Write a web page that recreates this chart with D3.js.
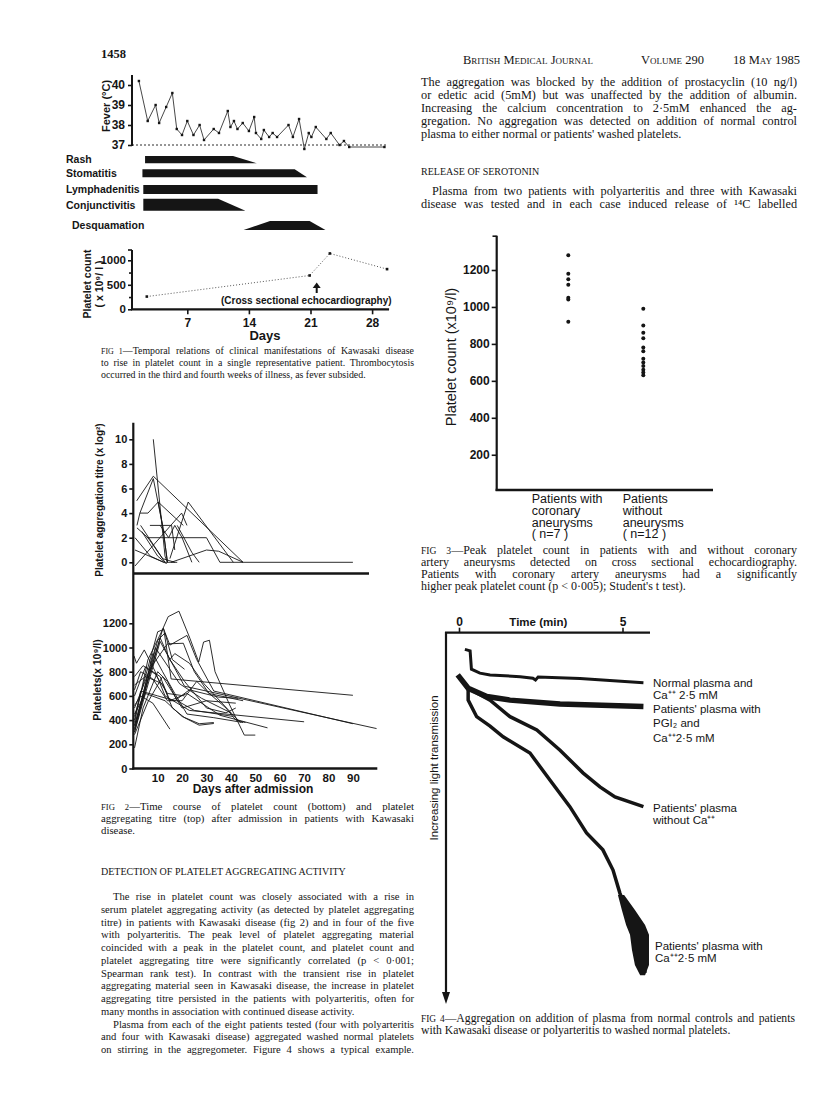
<!DOCTYPE html>
<html><head><meta charset="utf-8">
<script src="https://cdn.jsdelivr.net/npm/d3@7"></script>
<style>body{margin:0;background:#fff} svg{display:block}</style>
</head><body>
<svg id="c" width="816" height="1111"></svg>
<script>
// ---------------- DATA ----------------
// Fig 1: fever
const feverDay = [1.5,2.5,3.4,3.8,4.6,5.3,5.8,6.4,7.0,7.7,8.4,8.9,10.0,10.6,11.6,11.9,12.3,12.7,13.3,14.0,14.6,14.8,15.4,15.7,16.3,16.7,17.2,18.5,19.0,19.7,20.3,20.8,21.1,21.6,22.8,23.3,24.3,24.8,25.4,29.4];
const feverTemp = [40.2,38.2,39.0,38.1,38.9,39.6,37.8,37.5,38.2,37.5,38.0,37.25,37.8,37.6,38.7,37.9,38.2,37.8,38.1,37.7,38.4,37.6,37.3,37.75,37.4,37.6,37.4,38.0,37.4,38.3,36.8,37.6,37.4,37.9,37.3,37.6,37.0,37.2,36.9,36.9];
const feverTicks = [37,38,39,40];
// Fig 1: clinical manifestations (days)
const symptoms = ["Rash","Stomatitis","Lymphadenitis","Conjunctivitis","Desquamation"];
const symStart   = [2.2, 1.9, 2.0, 2.0, 13.4];
const symFull    = [2.2, 1.9, 2.0, 2.0, 16.4];
const symFullEnd = [12.2,19.2,21.8,10.5,20.9];
const symEnd     = [14.9,20.6,21.8,13.6,22.7];
// Fig 1: platelet count
const pltDay = [2.4,20.9,23.2,29.7];
const pltCount = [260,690,1140,820];
const dayTicks = [7,14,21,28];
const pltTicks = [0,500,1000];
// Fig 2 top: platelet aggregation titre (day, titre)
const titreSeries = [
 [[1.4,5],[8.2,7],[45,0]],
 [[1.5,3],[2.7,4],[8.2,6.8],[12,3],[14,0]],
 [[8.2,10],[13,0.5],[14,0]],
 [[2.7,4],[6,4],[10.2,4.9],[20.5,3]],
 [[6.8,3],[15.7,3],[17,1]],
 [[5.5,2],[30,2],[35.5,0],[45,0],[90,0]],
 [[15,0.3],[22.5,4.9],[41,0]],
 [[1.5,2.8],[6,2],[12,0.3],[17,0]],
 [[0.7,2],[7,0.5],[12.5,0]],
 [[0.7,1],[13.7,-0.1]],
 [[0.7,-0.3],[19.8,4],[22,3]],
 [[3,3],[13,0],[18,0]],
 [[15.5,0],[30,1],[35,0.9],[45,0]],
 [[11,3],[14.5,2],[17,3],[20,2],[24,0]],
 [[10.2,4.9],[12,3],[14,0]],
 [[18,3],[24,0.8],[27,0]],
 [[3.5,2.5],[10,0.5],[13,0]]
];
const titreTicks = [0,2,4,6,8,10];
// Fig 2 bottom: platelets (day, count)
const plateletSeries = [
 [[0.5,430],[10,1130],[12.5,1150],[15.5,740],[90,605]],
 [[0.5,330],[12,1150],[14.3,1255],[18.7,1300],[23.2,1076],[26.8,880],[28.8,1045],[31.2,1060],[33.5,800],[39.5,525],[45.5,276],[50,276]],
 [[0.5,300],[11,1050],[21,680],[99.7,330]],
 [[0.5,380],[6,900],[12.3,1160],[15,1020],[22,1100],[26,900],[33,640],[90,370]],
 [[0.5,500],[7,830],[14,1030],[20.5,1035],[25,800],[31,620],[45,560]],
 [[0.3,930],[1.3,870],[4.5,980],[9,800],[13,600],[23,480],[70,386]],
 [[0.5,600],[5,840],[11,760],[15,560],[22,620],[35.5,440],[55,336]],
 [[0.5,690],[5,760],[12,700],[16,500],[21,420],[27,358],[33,372]],
 [[0.5,520],[3,600],[8,540],[15,325]],
 [[0.5,170],[4,500],[10,800],[14,720],[18,560],[25,480],[41,430]],
 [[0.5,400],[3,640],[10,600],[17,560],[23,650],[35,590],[43,580]],
 [[0.5,320],[8,950],[12,800],[17,620],[22,450],[33,420],[45,380]],
 [[0.5,280],[6,550],[12,760],[20,500],[30,560],[42,540]],
 [[0.5,650],[3,800],[8,740],[14,560],[20,560],[26,720],[30,640],[38,500],[42,400],[46,380]],
 [[0.5,350],[9,1000],[13,880],[19,700],[28,580],[40,460]],
 [[0.5,360],[11,1080],[15,900],[21,720],[30,500],[38,460],[42,500]],
 [[14.5,890],[17,950],[23,870],[29,700],[41,440],[44,380]],
 [[0.5,450],[5,620],[13,560],[20,430],[27,370],[33,380]],
 [[0.5,760],[4,850],[9,780],[14,620],[21,600]],
 [[0.5,300],[10,1060],[13,1120],[16,900],[21,820]]
];
const plateletTicks = [0,200,400,600,800,1000,1200];
const admitTicks = [10,20,30,40,50,60,70,80,90];
// Fig 3
const groupLabels = [["Patients with","coronary","aneurysms","( n=7 )"],["Patients","without","aneurysms","( n=12 )"]];
const withAneurysm = [1280,1180,1150,1120,1050,1040,920];
const withoutAneurysm = [990,900,860,830,780,760,720,700,680,660,645,630];
const fig3Ticks = [200,400,600,800,1000,1200];
// Fig 4: aggregometer traces (time min, downward deflection units)
const traceNormal = [[0.18,2.6],[0.34,3.0],[0.38,8.1],[0.64,9.2],[0.95,9.7],[1.87,10.2],[2.26,10.6],[2.34,11.1],[2.42,10.3],[3.7,10.7],[5.64,11.9]];
const tracePGI = [[-0.04,9.7],[0.28,13.4],[0.85,15.7],[1.56,16.7],[3.09,17.8],[5.64,18.5]];
const traceNoCa = [[0.28,13.4],[0.95,16.7],[1.56,21.3],[2.38,25],[3.09,30.6],[3.79,36.9],[4.31,40.8],[4.77,43.6],[5.64,46.3]];
const traceCa = [[0.28,13.3],[0.28,16.7],[0.54,21.3],[0.95,23.9],[1.35,26.9],[2.17,31.4],[2.78,38.9],[3.39,46.3],[3.9,53.6],[4.4,58.3],[4.71,63.9],[4.92,70.3],[5.23,77.8],[5.54,84.2],[5.69,92.5]];
const caBand = [[70.8,4.86,5.05],[75,4.98,5.38],[79.2,5.11,5.69],[81.9,5.23,5.81],[86.1,5.29,5.81],[90.3,5.38,5.81],[93.1,5.54,5.69]];
const timeTicks = [0,5];

// ---------------- DRAWING ----------------
const svg = d3.select('#c');
const SERIF = "'Liberation Serif','Times New Roman',serif";
const SANS = "'Liberation Sans',Arial,sans-serif";
const ink = '#151515';
const fmt = d3.format('d');

function tx(x,y,t,o={}){
  const e = svg.append('text').attr('x',x).attr('y',y).attr('fill',ink)
   .attr('font-family',o.f||SERIF).attr('font-size',o.s||11.5).text(t);
  if(o.w) e.attr('font-weight',o.w);
  if(o.a) e.attr('text-anchor',o.a);
  if(o.sc) e.style('font-variant','small-caps');
  return e;
}
function justify(e,target,text){
  const nat = e.node().getComputedTextLength();
  const sp = (text.match(/ /g)||[]).length;
  if(sp>0) e.attr('word-spacing',((target-nat)/sp).toFixed(2));
}
function para(lines,x,y0,dy,width,size){
  lines.forEach((ln,i)=>{
    const ind = ln.i||0;
    const e = svg.append('text').attr('x',x+ind).attr('y',y0+i*dy).attr('fill',ink)
      .attr('font-family',SERIF).attr('font-size',size);
    if(ln.fig){ e.append('tspan').attr('font-size',size*0.8).text(ln.fig); }
    e.append('tspan').text(ln.t);
    if(ln.j) justify(e,width-ind,(ln.fig||'')+ln.t);
  });
}

// header
tx(101,58,'1458',{w:'bold',s:12.5});
tx(463,64,'British Medical Journal',{sc:true,s:12.5});
tx(641,64,'Volume 290',{sc:true,s:12.5});
tx(733,64,'18 May 1985',{sc:true,s:12.5});

// right column text
para([
 {t:'The aggregation was blocked by the addition of prostacyclin (10 ng/l)',j:1},
 {t:'or edetic acid (5mM) but was unaffected by the addition of albumin.',j:1},
 {t:'Increasing the calcium concentration to 2·5mM enhanced the ag-',j:1},
 {t:'gregation. No aggregation was detected on addition of normal control',j:1},
 {t:"plasma to either normal or patients' washed platelets."}
],421,86,13,376,12.3);
tx(421,175,'RELEASE OF SEROTONIN',{s:10});
para([
 {t:'Plasma from two patients with polyarteritis and three with Kawasaki',j:1,i:11},
 {t:'disease was tested and in each case induced release of ¹⁴C labelled',j:1}
],421,195,13,376,12.3);

// left column text
tx(101,875,'DETECTION OF PLATELET AGGREGATING ACTIVITY',{s:10});
para([
 {t:'The rise in platelet count was closely associated with a rise in',j:1,i:12},
 {t:'serum platelet aggregating activity (as detected by platelet aggregating',j:1},
 {t:'titre) in patients with Kawasaki disease (fig 2) and in four of the five',j:1},
 {t:'with polyarteritis. The peak level of platelet aggregating material',j:1},
 {t:'coincided with a peak in the platelet count, and platelet count and',j:1},
 {t:'platelet aggregating titre were significantly correlated (p < 0·001;',j:1},
 {t:'Spearman rank test). In contrast with the transient rise in platelet',j:1},
 {t:'aggregating material seen in Kawasaki disease, the increase in platelet',j:1},
 {t:'aggregating titre persisted in the patients with polyarteritis, often for',j:1},
 {t:'many months in association with continued disease activity.'},
 {t:'Plasma from each of the eight patients tested (four with polyarteritis',j:1,i:12},
 {t:'and four with Kawasaki disease) aggregated washed normal platelets',j:1},
 {t:'on stirring in the aggregometer. Figure 4 shows a typical example.',j:1}
],101,900,12.75,313,10.6);

// captions
para([
 {fig:'FIG 1',t:'—Temporal relations of clinical manifestations of Kawasaki disease',j:1},
 {t:'to rise in platelet count in a single representative patient. Thrombocytosis',j:1},
 {t:'occurred in the third and fourth weeks of illness, as fever subsided.'}
],101,354,12,313,9.9);
para([
 {fig:'FIG 2',t:'—Time course of platelet count (bottom) and platelet',j:1},
 {t:'aggregating titre (top) after admission in patients with Kawasaki',j:1},
 {t:'disease.'}
],101,810,12,313,10.8);
para([
 {fig:'FIG 3',t:'—Peak platelet count in patients with and without coronary',j:1},
 {t:'artery aneurysms detected on cross sectional echocardiography.',j:1},
 {t:'Patients with coronary artery aneurysms had a significantly',j:1},
 {t:"higher peak platelet count (p < 0·005); Student's t test)."}
],421,554,12,376,12);
para([
 {fig:'FIG 4',t:'—Aggregation on addition of plasma from normal controls and patients',j:1},
 {t:'with Kawasaki disease or polyarteritis to washed normal platelets.'}
],421,1022,12,374,11.7);

function styleAxis(g,size,weight){
  g.select('.domain').remove();
  g.selectAll('line').attr('stroke',ink).attr('stroke-width',1.6);
  g.selectAll('text').attr('font-family',SANS).attr('font-size',size).attr('font-weight',weight||'bold').attr('fill',ink);
}
function vline(x,y1,y2,w){svg.append('line').attr('x1',x).attr('x2',x).attr('y1',y1).attr('y2',y2).attr('stroke',ink).attr('stroke-width',w||2);}
function hline(y,x1,x2,w){svg.append('line').attr('x1',x1).attr('x2',x2).attr('y1',y).attr('y2',y).attr('stroke',ink).attr('stroke-width',w||2);}
function rlabel(x,y,t,size,weight){
  return svg.append('text').attr('transform',`translate(${x},${y}) rotate(-90)`).attr('text-anchor','middle')
    .attr('font-family',SANS).attr('font-size',size).attr('font-weight',weight||'600').attr('fill',ink).text(t);
}

// ===== FIG 1 =====
const x1 = d3.scaleLinear().domain([0,28]).range([125.7,372.1]);
const yF = d3.scaleLinear().domain([37,40]).range([145,85]);
vline(132,75,146,2);
svg.append('g').attr('transform','translate(132,0)').call(d3.axisLeft(yF).tickValues(feverTicks).tickSize(4).tickPadding(3).tickFormat(fmt)).call(g=>styleAxis(g,12));
svg.append('line').attr('x1',132).attr('x2',x1(29.6)).attr('y1',yF(37)).attr('y2',yF(37)).attr('stroke',ink).attr('stroke-width',0.9).attr('stroke-dasharray','2,2');
const feverPts = feverDay.map((d,i)=>[x1(d),yF(feverTemp[i])]);
svg.append('path').attr('d',d3.line()(feverPts)).attr('fill','none').attr('stroke','#333').attr('stroke-width',0.9);
svg.selectAll('.fp').data(feverPts).join('rect').attr('x',d=>d[0]-1.2).attr('y',d=>d[1]-1.2).attr('width',2.4).attr('height',2.4).attr('fill',ink);
rlabel(110,106,'Fever (°C)',11,'bold');

// symptom bars
const rowTop = [156,169.3,185,198.7,221];
const rowH = [7.3,8,9,12,9];
symptoms.forEach((s,i)=>{
  const t=rowTop[i], b=rowTop[i]+rowH[i];
  const pts=[[x1(symStart[i]),b],[x1(symFull[i]),t],[x1(symFullEnd[i]),t],[x1(symEnd[i]),b]];
  if(symStart[i]===symFull[i]) pts.splice(1,0,[x1(symStart[i]),t]);
  svg.append('path').attr('d','M'+pts.map(p=>p.join(',')).join('L')+'Z').attr('fill',ink);
  tx(i===4?72:66,rowTop[i]+rowH[i]/2+3.8,s,{f:SANS,w:'bold',s:10.5});
});

// platelet panel
const yP = d3.scaleLinear().domain([0,1000]).range([309.3,260.3]);
vline(132,250,310,2);
hline(250,128,132,1.6);
hline(309.3,131,x1(29.7)+2,2.2);
svg.append('g').attr('transform','translate(132,0)').call(d3.axisLeft(yP).tickValues(pltTicks).tickSize(4).tickPadding(2).tickFormat(fmt)).call(g=>styleAxis(g,11.5));
svg.append('g').attr('transform','translate(132,0)').call(d3.axisLeft(yP).tickValues([250,750]).tickSize(3).tickFormat('')).call(g=>styleAxis(g,12));
svg.append('g').attr('transform','translate(0,309.3)').call(d3.axisBottom(x1).tickValues(dayTicks).tickSize(5).tickPadding(4).tickFormat(fmt)).call(g=>styleAxis(g,12));
tx(265,340,'Days',{f:SANS,w:'bold',s:13,a:'middle'});
const pltPts = pltDay.map((d,i)=>[x1(d),yP(pltCount[i])]);
svg.append('path').attr('d',d3.line()(pltPts)).attr('fill','none').attr('stroke','#444').attr('stroke-width',0.9).attr('stroke-dasharray','1,2');
svg.selectAll('.pp').data(pltPts).join('rect').attr('x',d=>d[0]-1.3).attr('y',d=>d[1]-1.3).attr('width',2.6).attr('height',2.6).attr('fill',ink);
svg.append('line').attr('x1',316.7).attr('x2',316.7).attr('y1',293).attr('y2',287).attr('stroke',ink).attr('stroke-width',2);
svg.append('path').attr('d','M312.7,288 L316.7,282.5 L320.7,288 Z').attr('fill',ink);
tx(221,304,'(Cross sectional echocardiography)',{f:SANS,w:'bold',s:10});
rlabel(91,284,'Platelet count',10.5,'bold');
rlabel(103,284,'( x 10⁹/ l )',10.5,'bold');

// ===== FIG 2 =====
const x2 = d3.scaleLinear().domain([0,100]).range([133.3,377.3]);
const yT = d3.scaleLinear().domain([0,10]).range([562.3,439.3]);
const yB = d3.scaleLinear().domain([0,1200]).range([768.5,623.3]);
vline(133.3,422.7,769.5,2.2);
hline(573.5,133,369,2.4);
hline(768.5,132.3,377.3,2.4);
svg.append('g').attr('transform','translate(133.3,0)').call(d3.axisLeft(yT).tickValues(titreTicks).tickSize(4).tickPadding(2).tickFormat(fmt)).call(g=>styleAxis(g,11,'600'));
svg.append('g').attr('transform','translate(133.3,0)').call(d3.axisLeft(yB).tickValues(plateletTicks).tickSize(4).tickPadding(2).tickFormat(fmt)).call(g=>styleAxis(g,11,'600'));
svg.append('g').attr('transform','translate(0,768.5)').call(d3.axisBottom(x2).tickValues(admitTicks).tickSize(0).tickPadding(5).tickFormat(fmt)).call(g=>styleAxis(g,11.5,'600'));
tx(253,793,'Days after admission',{f:SANS,s:12,a:'middle',w:'600'});
const lineT = d3.line().x(d=>x2(d[0])).y(d=>yT(d[1]));
svg.selectAll('.ts').data(titreSeries).join('path').attr('d',lineT).attr('fill','none').attr('stroke',ink).attr('stroke-width',0.9);
const lineB = d3.line().x(d=>x2(d[0])).y(d=>yB(d[1]));
svg.selectAll('.bs').data(plateletSeries).join('path').attr('d',lineB).attr('fill','none').attr('stroke',ink).attr('stroke-width',0.9);
rlabel(103,500,'Platelet aggregation titre (x log²)',10,'600');
rlabel(101,680,'Platelets(x 10⁹/l)',10.5,'600');

// ===== FIG 3 =====
const y3 = d3.scaleLinear().domain([0,1200]).range([491.7,270]);
const x3 = d3.scalePoint().domain([0,1]).range([568.3,643.3]);
vline(496.7,235.7,491,2.2);
hline(236.2,492.5,496.7,1.6);
hline(490,495.6,713,2.4);
svg.append('g').attr('transform','translate(496.7,0)').call(d3.axisLeft(y3).tickValues(fig3Ticks).tickSize(5).tickPadding(2).tickFormat(fmt)).call(g=>styleAxis(g,12,'600'));
svg.selectAll('.d1').data(withAneurysm).join('circle').attr('cx',x3(0)).attr('cy',d=>y3(d)).attr('r',2).attr('fill',ink);
svg.selectAll('.d2').data(withoutAneurysm).join('circle').attr('cx',x3(1)).attr('cy',d=>y3(d)).attr('r',2).attr('fill',ink);
groupLabels.forEach((lab,gi)=>{
  lab.forEach((l,li)=>tx(gi===0?531.7:622.7,503+li*11.8,l,{f:SANS,s:12.5}));
});
rlabel(456,357,'Platelet count (x10⁹/l)',14.5,'normal');

// ===== FIG 4 =====
const xt = d3.scaleLinear().domain([0,5]).range([459,622.5]);
const yv = d3.scaleLinear().domain([0,100]).range([640,1000]);
hline(632.7,445,650,2.2);
vline(446,632,995,2.2);
svg.append('path').attr('d','M442,992 L446,1004 L450,992 Z').attr('fill',ink);
svg.append('g').attr('transform','translate(0,632.7)').call(d3.axisTop(xt).tickValues(timeTicks).tickSize(5).tickPadding(2).tickFormat(fmt)).call(g=>styleAxis(g,12,'600'));
tx(538.3,626,'Time (min)',{f:SANS,s:11.5,a:'middle',w:'600'});
const lineF = d3.line().x(d=>xt(d[0])).y(d=>yv(d[1]));
svg.append('path').attr('d',lineF(traceNormal)).attr('fill','none').attr('stroke',ink).attr('stroke-width',3);
svg.append('path').attr('d',lineF(tracePGI)).attr('fill','none').attr('stroke',ink).attr('stroke-width',5.5);
svg.append('path').attr('d',lineF(traceNoCa)).attr('fill','none').attr('stroke',ink).attr('stroke-width',3.5);
svg.append('path').attr('d',lineF(traceCa)).attr('fill','none').attr('stroke',ink).attr('stroke-width',3.5);
const bandPts = caBand.map(d=>[xt(d[1]),yv(d[0])]).concat(caBand.slice().reverse().map(d=>[xt(d[2]),yv(d[0])]));
svg.append('path').attr('d','M'+bandPts.map(p=>p.join(',')).join('L')+'Z').attr('fill',ink);
rlabel(438,768,'Increasing light transmission',11.5,'normal');
const f4 = {f:SANS,s:11.5};
tx(653,687,'Normal plasma and',f4);
tx(653,699,'Ca⁺⁺  2·5 mM',f4);
tx(653,713,"Patients' plasma with",f4);
tx(653,727,'PGI₂  and',f4);
tx(653,742,'Ca⁺⁺2·5 mM',f4);
tx(653,812,"Patients' plasma",f4);
tx(653,824,'without  Ca⁺⁺',f4);
tx(655,950,"Patients' plasma with",f4);
tx(655,962,'Ca⁺⁺2·5 mM',f4);
</script>
</body></html>
